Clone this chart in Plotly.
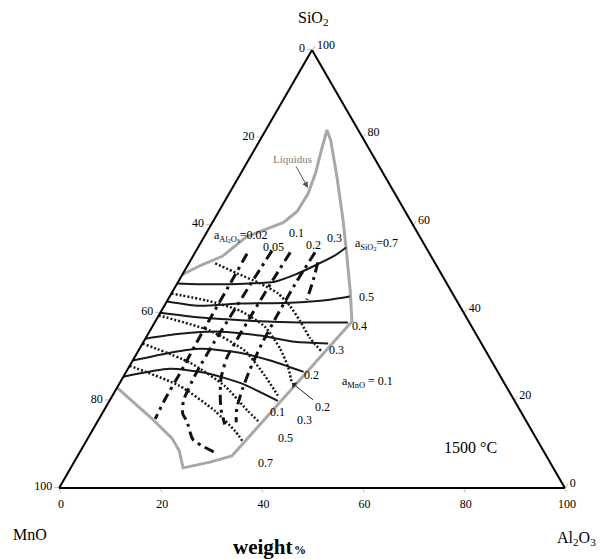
import plotly.graph_objects as go

# ---------------- data (wt%) ----------------
# Liquidus boundary at 1500 C : SiO2 and Al2O3 (MnO = rest)
liq_sio2 = [48.7, 50.8, 52.9, 57.4, 59.0, 60.6, 63.2, 67.3, 72.1, 76.7, 81.7, 79.4, 70.9,
            61.1, 53.5, 45.1, 38.0, 7.3, 5.9, 4.6, 8.5, 11.4, 16.2, 22.9]
liq_al2o3 = [0.0, 2.5, 5.8, 8.4, 11.2, 14.0, 15.5, 15.6, 14.7, 13.4, 12.1, 14.0, 19.5,
             25.6, 30.1, 35.0, 38.9, 30.5, 26.9, 22.2, 19.5, 16.6, 9.9, 0.0]

# iso-activity of SiO2 (solid lines)
aSiO2_levels = ["0.7", "0.5", "0.4", "0.3", "0.2", "0.1"]
aSiO2_sio2 = [
    [46.7, 46.5, 46.7, 47.1, 48.7, 50.8, 53.1, 54.9],
    [42.6, 41.6, 42.1, 42.3, 43.0, 43.7],
    [40.0, 38.9, 38.2, 37.8, 37.8],
    [34.1, 35.2, 35.7, 34.8, 33.4, 33.0],
    [29.1, 30.9, 31.8, 30.9, 29.1, 26.5],
    [25.4, 27.2, 26.3, 24.0, 19.9],
]
aSiO2_al2o3 = [
    [0.0, 6.6, 14.4, 19.1, 22.3, 25.2, 28.0, 29.3],
    [0.0, 7.0, 14.7, 24.5, 32.0, 35.6],
    [0.0, 8.4, 18.6, 28.8, 38.2],
    [0.0, 6.3, 14.0, 22.3, 29.9, 36.7],
    [0.0, 6.5, 12.0, 20.3, 27.2, 35.1],
    [0.0, 8.3, 15.7, 23.8, 33.3],
]

# iso-activity of MnO (dotted lines)
aMnO_levels = ["0.1", "0.2", "0.3", "0.5", "0.7"]
aMnO_sio2 = [
    [51.3, 49.0, 46.7, 44.4, 41.6, 38.2, 34.3, 31.1],
    [44.4, 42.8, 40.5, 36.8, 31.8, 27.7, 24.0],
    [39.4, 35.9, 31.3, 25.6, 21.1],
    [33.0, 28.6, 23.3, 17.6, 15.3],
    [27.9, 23.3, 17.6, 13.0, 10.8],
]
aMnO_al2o3 = [
    [5.2, 10.7, 16.4, 21.1, 24.8, 28.5, 32.4, 36.4],
    [0.0, 7.8, 15.5, 22.3, 27.8, 31.4, 34.0],
    [0.0, 11.9, 21.1, 27.9, 32.7],
    [0.0, 11.6, 21.1, 28.5, 31.7],
    [0.0, 12.2, 22.0, 28.3, 30.8],
]

# iso-activity of Al2O3 (dash-dot lines)
aAl2O3_levels = ["0.02", "0.05", "0.1", "0.2", "0.3"]
aAl2O3_sio2 = [
    [53.5, 46.7, 39.8, 33.0, 26.3, 20.6, 15.8],
    [54.2, 47.0, 40.0, 33.0, 26.0, 20.0, 16.9, 15.3, 11.0, 7.8],
    [53.8, 47.0, 40.0, 33.0, 29.7, 25.0, 21.5, 18.0, 14.5],
    [53.8, 47.0, 40.0, 33.0, 27.0, 22.9, 18.3, 15.0],
    [51.5, 47.5, 43.0],
]
aAl2O3_al2o3 = [
    [10.4, 10.5, 10.5, 10.6, 10.8, 10.8, 11.1],
    [15.0, 14.6, 14.3, 14.0, 14.0, 14.6, 16.0, 17.6, 21.0, 27.5],
    [18.8, 18.5, 18.3, 18.2, 18.3, 19.5, 21.1, 23.0, 25.5],
    [23.7, 23.4, 23.4, 23.6, 24.2, 24.9, 26.0, 27.5],
    [25.4, 26.5, 27.5],
]

tick_vals = [0, 20, 40, 60, 80, 100]

# ---------------- figure ----------------
SERIF = "Liberation Serif, Times New Roman, serif"
fig = go.Figure()


def add_line(sio2, al2o3, color, width, dash):
    mno = [100 - s - a for s, a in zip(sio2, al2o3)]
    fig.add_trace(go.Scatterternary(a=sio2, b=mno, c=al2o3, mode="lines",
                                    line=dict(color=color, width=width, dash=dash,
                                              shape="spline", smoothing=0.6),
                                    hoverinfo="skip", showlegend=False))


# liquidus (closed polygon)
liq_mno = [100 - s - a for s, a in zip(liq_sio2, liq_al2o3)]
fig.add_trace(go.Scatterternary(a=liq_sio2, b=liq_mno, c=liq_al2o3, mode="lines",
                                line=dict(color="#a8a8a8", width=3),
                                hoverinfo="skip", showlegend=False))

for s, a in zip(aSiO2_sio2, aSiO2_al2o3):
    add_line(s, a, "#1a1a1a", 2, "solid")
for s, a in zip(aMnO_sio2, aMnO_al2o3):
    add_line(s, a, "#1a1a1a", 2.5, "2px,2px")
for s, a in zip(aAl2O3_sio2, aAl2O3_al2o3):
    add_line(s, a, "#111111", 3, "10px,5px,3px,5px")


def axis(texts):
    return dict(tickmode="array", tickvals=tick_vals, ticktext=texts, color="black",
                ticks="outside", ticklen=4, tickcolor="#bbbbbb",
                showgrid=False, linecolor="black", linewidth=2,
                tickfont=dict(family=SERIF, size=12, color="black"),
                title=dict(text=""), min=0)


labels = [str(100 - v) for v in tick_vals]

fig.update_layout(
    width=613, height=559,
    margin=dict(l=59, r=48, t=50, b=71),
    paper_bgcolor="white",
    ternary=dict(sum=100, bgcolor="white",
                 aaxis=axis(labels), baxis=axis(labels), caxis=axis(labels)),
    font=dict(family=SERIF, color="black"),
)

# ---- text (positions given in page pixels, converted to paper fractions)
PL, PR, PT, PB = 59, 565, 50, 488


def px(x, y):
    return (x - PL) / (PR - PL), (PB - y) / (PB - PT)


def label(txt, x, y, size=12, color="black", **kw):
    xx, yy = px(x, y)
    fig.add_annotation(x=xx, y=yy, xref="paper", yref="paper", text=txt, showarrow=False,
                       font=dict(family=SERIF, size=size, color=color),
                       xanchor="center", yanchor="middle", **kw)


label("SiO<sub>2</sub>", 313, 18, 16)
label("MnO", 30, 534, 16)
label("Al<sub>2</sub>O<sub>3</sub>", 576, 538, 16)
label("<b>weight</b>", 263, 547, 21)
label("<b>%</b>", 300, 550, 12)
label("1500 °C", 470, 447, 16)

# Liquidus label with arrow
tx, ty = px(308, 188)
fig.add_annotation(x=tx, y=ty, xref="paper", yref="paper", text="Liquidus",
                   showarrow=True, ax=-16, ay=-29, arrowhead=2, arrowsize=1.2,
                   arrowwidth=1, arrowcolor="#555555",
                   font=dict(family=SERIF, size=11, color="#808080"))

# a_Al2O3 labels
label("a<sub>Al<sub>2</sub>O<sub>3</sub></sub>=" + aAl2O3_levels[0], 240, 236, 12)
for txt, (x, y) in zip(aAl2O3_levels[1:], [(273, 247), (296, 233), (313, 245), (334, 238)]):
    label(txt, x, y, 12)

# a_SiO2 labels
label("a<sub>SiO<sub>2</sub></sub>=" + aSiO2_levels[0], 376, 244, 12)
for txt, (x, y) in zip(aSiO2_levels[1:], [(366, 297), (359, 326), (336, 350), (311, 375), (277, 412)]):
    label(txt, x, y, 12)

# a_MnO labels (0.2 has an arrow pointing at its line end)
label("a<sub>MnO</sub> = " + aMnO_levels[0], 367, 382, 12)
ax_, ay_ = px(292, 383)
fig.add_annotation(x=ax_, y=ay_, xref="paper", yref="paper", text=aMnO_levels[1],
                   showarrow=True, ax=30, ay=24, arrowhead=1, arrowsize=1.3,
                   arrowwidth=1, arrowcolor="#222222",
                   font=dict(family=SERIF, size=12, color="black"))
for txt, (x, y) in zip(aMnO_levels[2:], [(304, 420), (285, 438), (265, 463)]):
    label(txt, x, y, 12)

fig.write_html("out.html")
